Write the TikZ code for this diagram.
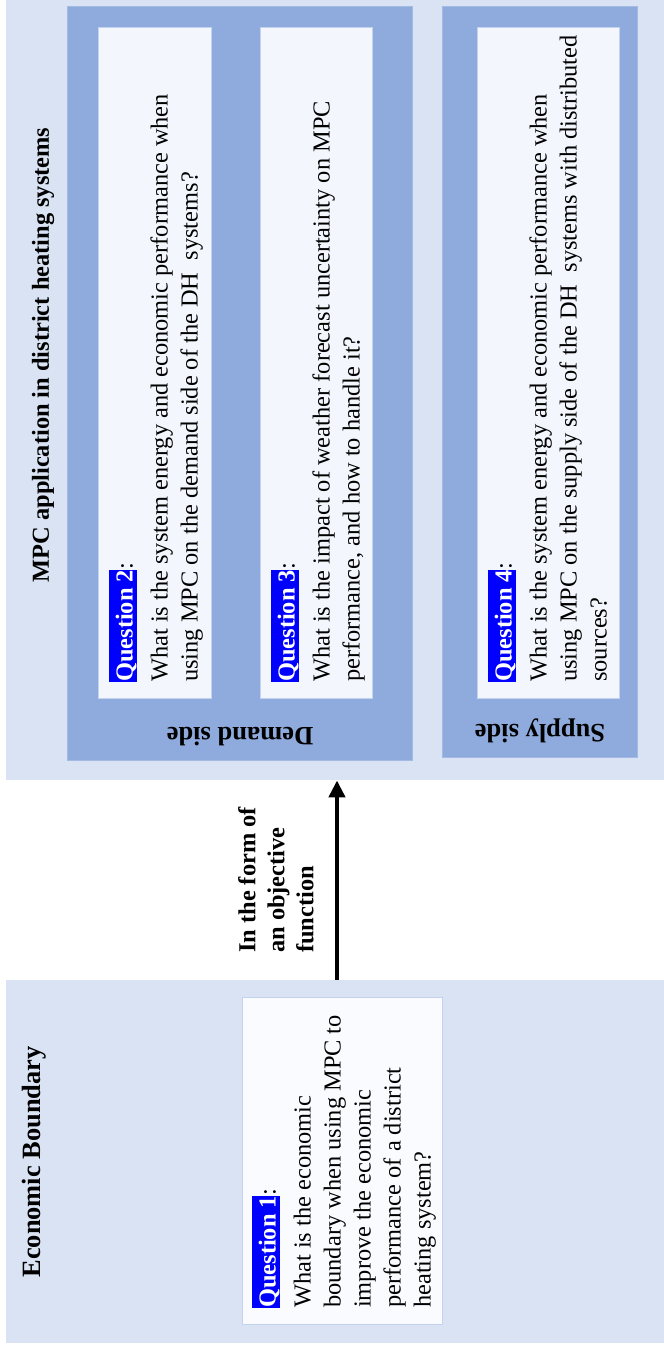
\documentclass[tikz,border=0pt]{standalone}
\usepackage{fontspec}
\setmainfont{Liberation Serif}
\usetikzlibrary{arrows.meta}

\definecolor{panelbg}{HTML}{DAE3F3}
\definecolor{sidebg}{HTML}{8FAADC}
\definecolor{sideedge}{HTML}{A3BAE3}
\definecolor{qbg}{HTML}{F3F6FC}
\definecolor{qedge}{HTML}{C3D2EE}
\definecolor{qonebg}{HTML}{FAFBFE}
\definecolor{qlabel}{HTML}{0000FF}

% white-on-blue question tag followed by a colon
\newcommand{\qtag}[1]{{\setlength{\fboxsep}{0pt}\colorbox{qlabel}{\rule{0pt}{23.5pt}\textcolor{white}{\bfseries Question #1}}}:}

\begin{document}
\begin{tikzpicture}[x=1pt,y=-1pt,
  panel/.style={fill=panelbg, draw=none, inner sep=0pt, anchor=north west},
  sidebox/.style={fill=sidebg, draw=sideedge, line width=0.8pt, inner sep=0pt, anchor=north west},
  qbox/.style={fill=qbg, draw=qedge, line width=0.8pt, inner sep=0pt, anchor=north west},
  qtext/.style={rotate=90, anchor=north west, inner sep=0pt, align=left,
    font=\fontsize{24.4}{30}\selectfont},
  heading/.style={font=\fontsize{#1}{#1}\selectfont\bfseries, inner sep=0pt},
  flow/.style={line width=4.5pt, -{Triangle[width=16pt,length=17pt]}}
]
\useasboundingbox (0,0) rectangle (664,1350);

% outer panels
\node[panel, minimum width=658pt, minimum height=780pt] (mpc) at (6,0) {};
\node[panel, minimum width=658pt, minimum height=363pt] (econ) at (6,980) {};

% demand and supply groups
\node[sidebox, minimum width=345pt, minimum height=754pt] (demand) at (67,6) {};
\node[sidebox, minimum width=195pt, minimum height=751pt] (supply) at (442,6) {};

% question boxes
\node[qbox, minimum width=113pt, minimum height=671pt] (q2box) at (98,27) {};
\node[qbox, minimum width=112pt, minimum height=671pt] (q3box) at (260,27) {};
\node[qbox, minimum width=142pt, minimum height=671pt] (q4box) at (477,27) {};
\node[qbox, fill=qonebg, minimum width=200pt, minimum height=327pt] (q1box) at (242,997) {};

% headings
\node[heading=24.4, rotate=90] (mpctitle) at (43,355) {MPC application in district heating systems};
\node[heading=26.4, rotate=90] (econtitle) at (34,1162) {Economic Boundary};
\node[heading=26.5, rotate=180, anchor=base] (demandlbl) at (240,727) {Demand side};
\node[heading=26.5, rotate=180, anchor=base] (supplylbl) at (540,724) {Supply side};

% question texts
\node[qtext] (q2text) at (109,682) {\qtag{2}\\[5pt]
  What is the system energy and economic performance when\\
  using MPC on the demand side of the DH\ \ systems?};
\node[qtext] (q3text) at (271,682) {\qtag{3}\\[5pt]
  What is the impact of weather forecast uncertainty on MPC\\
  performance, and how to handle it?};
\node[qtext] (q4text) at (488,682) {\qtag{4}\\[5pt]
  What is the system energy and economic performance when\\
  using MPC on the supply side of the DH\ \ systems with distributed\\
  sources?};
\node[qtext] (q1text) at (252,1308) {\qtag{1}\\[5pt]
  What is the economic\\
  boundary when using MPC to\\
  improve the economic\\
  performance of a district\\
  heating system?};

% connector from the economic boundary up to the MPC panel
\coordinate (ax) at (337,0);
\draw[flow] (econ.north -| ax) -- (mpc.south -| ax);
\node[rotate=90, anchor=north west, inner sep=0pt, align=left,
  font=\fontsize{24.4}{29}\selectfont\bfseries] (flowlbl) at (238,953)
  {In the form of\\ an objective\\ function};
\end{tikzpicture}
\end{document}
